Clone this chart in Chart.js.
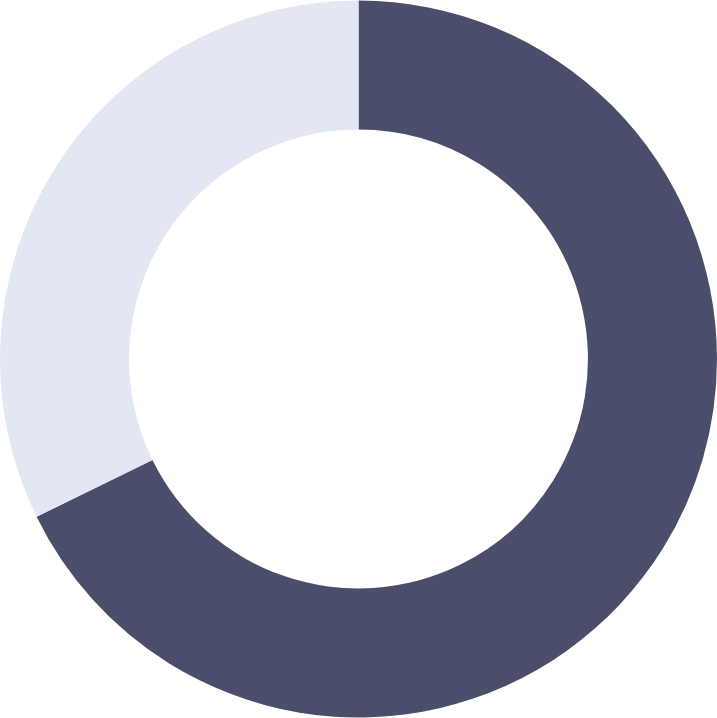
<!DOCTYPE html>
<html>
<head>
<meta charset="utf-8">
<script src="https://cdn.jsdelivr.net/npm/chart.js@4/dist/chart.umd.min.js"></script>
<style>
  html, body { margin: 0; padding: 0; background: #ffffff; }
  #wrap { width: 717px; height: 718px; }
</style>
</head>
<body>
<div id="wrap"><canvas id="c"></canvas></div>
<script>
const labels = ["A", "B"];
const values = [67.75, 32.25];
const colors = ["#4b4e6b", "#e3e7f4"];

new Chart(document.getElementById("c"), {
  type: "doughnut",
  data: {
    labels: labels,
    datasets: [{
      data: values,
      backgroundColor: colors,
      borderWidth: 0
    }]
  },
  options: {
    responsive: true,
    maintainAspectRatio: false,
    animation: false,
    cutout: "64%",
    layout: { padding: 0 },
    plugins: { legend: { display: false }, tooltip: { enabled: false } }
  }
});
</script>
</body>
</html>
